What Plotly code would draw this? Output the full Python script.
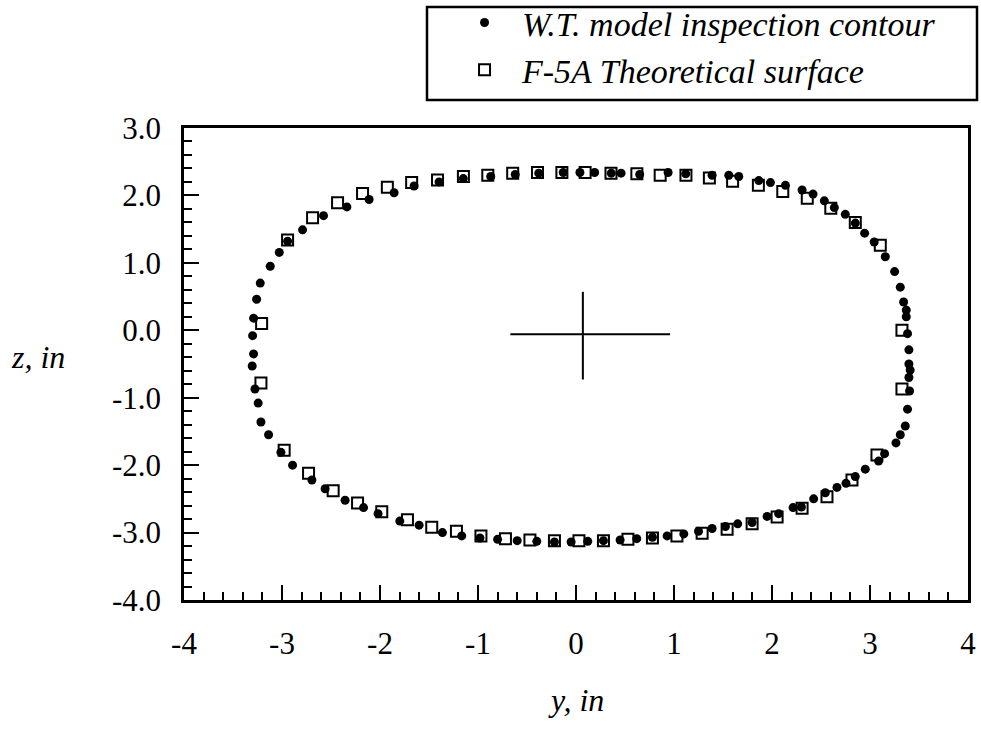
import plotly.graph_objects as go

# W.T. model inspection contour (filled circles): lateral y and vertical z, inches
wt_y = [-2.943, -2.79, -2.576, -2.338, -2.111, -1.856, -1.652, -1.397, -1.15, -0.87,
        -0.62, -0.38, -0.13, 0.04, 0.19, 0.36, 0.46, 0.65, 0.94, 1.12,
        1.389, 1.559, 1.661, 1.865, 1.984, 2.137, 2.307, 2.419, 2.534, 2.636,
        2.748, 2.85, 2.945, 3.043, 3.156, 3.251, 3.309, 3.343, 3.37, 3.37,
        3.383, 3.397, 3.397, 3.41, 3.397, 3.404, 3.383, 3.36, 3.309, 3.265,
        3.149, 3.088, 2.952, 2.85, 2.755, 2.663, 2.544, 2.425, 2.30, 2.215,
        2.068, 1.95, 1.797, 1.65, 1.525, 1.389, 1.25, 1.10, 0.93, 0.78,
        0.62, 0.45, 0.28, 0.12, -0.05, -0.22, -0.40, -0.60, -0.80, -0.98,
        -1.166, -1.363, -1.601, -1.798, -2.02, -2.168, -2.356, -2.56, -2.695, -2.892,
        -3.011, -3.137, -3.215, -3.243, -3.276, -3.304, -3.29, -3.30, -3.29, -3.259,
        -3.222, -3.12, -3.028]
wt_z = [1.32, 1.49, 1.70, 1.83, 1.94, 2.04, 2.14, 2.20, 2.25, 2.28,
        2.31, 2.33, 2.34, 2.34, 2.34, 2.33, 2.33, 2.31, 2.34, 2.32,
        2.30, 2.30, 2.28, 2.22, 2.19, 2.15, 2.08, 2.02, 1.92, 1.82,
        1.72, 1.59, 1.44, 1.31, 1.09, 0.87, 0.64, 0.42, 0.30, 0.20,
        -0.05, -0.29, -0.50, -0.59, -0.70, -0.90, -1.17, -1.42, -1.55, -1.67,
        -1.83, -1.94, -2.06, -2.17, -2.27, -2.33, -2.41, -2.50, -2.62, -2.63,
        -2.72, -2.76, -2.85, -2.87, -2.91, -2.94, -2.98, -3.02, -3.05, -3.07,
        -3.09, -3.11, -3.12, -3.13, -3.14, -3.14, -3.13, -3.12, -3.10, -3.08,
        -3.05, -3.00, -2.89, -2.83, -2.72, -2.63, -2.52, -2.35, -2.22, -2.00,
        -1.81, -1.55, -1.36, -1.08, -0.87, -0.53, -0.35, -0.08, 0.18, 0.46,
        0.70, 0.95, 1.155]

# F-5A theoretical surface (open squares)
th_y = [-3.215, -3.208, -2.943, -2.688, -2.433, -2.178, -1.925, -1.677, -1.413, -1.149,
        -0.90, -0.646, -0.393, -0.144, 0.093, 0.357, 0.621, 0.859, 1.122, 1.361,
        1.598, 1.861, 2.11, 2.36, 2.60, 2.85, 3.105, 3.326, 3.326, 3.071,
        2.816, 2.561, 2.307, 2.052, 1.797, 1.542, 1.287, 1.03, 0.78, 0.53,
        0.28, 0.03, -0.22, -0.47, -0.72, -0.97, -1.22, -1.472, -1.72, -1.982,
        -2.229, -2.478, -2.729, -2.978]
th_z = [-0.78, 0.10, 1.34, 1.67, 1.89, 2.03, 2.12, 2.19, 2.23, 2.28,
        2.30, 2.33, 2.34, 2.34, 2.34, 2.33, 2.32, 2.30, 2.30, 2.26,
        2.21, 2.15, 2.06, 1.96, 1.81, 1.60, 1.26, 0.00, -0.87, -1.85,
        -2.22, -2.47, -2.64, -2.77, -2.87, -2.95, -3.01, -3.05, -3.08, -3.10,
        -3.12, -3.12, -3.12, -3.11, -3.09, -3.05, -2.98, -2.92, -2.81, -2.69,
        -2.56, -2.38, -2.12, -1.78]

# reference cross through the section centre
cross_h_y = [-0.67, 0.96]
cross_h_z = [-0.06, -0.06]
cross_v_y = [0.07, 0.07]
cross_v_z = [0.57, -0.73]

x_ticks = [-4, -3, -2, -1, 0, 1, 2, 3, 4]
y_ticks = [3.0, 2.0, 1.0, 0.0, -1.0, -2.0, -3.0, -4.0]

SERIF = "Liberation Serif, Times New Roman, serif"

fig = go.Figure()

fig.add_trace(go.Scatter(
    x=th_y, y=th_z, mode="markers", name="<i>F-5A Theoretical surface</i>",
    marker=dict(symbol="square-open", size=11, color="black",
                line=dict(width=2, color="black")),
))
fig.add_trace(go.Scatter(
    x=wt_y, y=wt_z, mode="markers", name="<i>W.T. model inspection contour</i>",
    marker=dict(symbol="circle", size=9, color="black"),
))
fig.add_trace(go.Scatter(x=cross_h_y, y=cross_h_z, mode="lines", showlegend=False,
                         line=dict(color="black", width=2), hoverinfo="skip"))
fig.add_trace(go.Scatter(x=cross_v_y, y=cross_v_z, mode="lines", showlegend=False,
                         line=dict(color="black", width=2), hoverinfo="skip"))

axis_common = dict(
    showline=True, linecolor="black", linewidth=2.5, mirror=True,
    showgrid=False, zeroline=False,
    ticks="inside", ticklen=15, tickwidth=2, tickcolor="black",
    minor=dict(ticks="inside", ticklen=8, tickwidth=2, tickcolor="black", dtick=0.2),
    tickfont=dict(family=SERIF, size=31, color="black"),
)

fig.update_xaxes(range=[-4, 4], tickvals=x_ticks,
                 ticktext=[str(v) for v in x_ticks],
                 ticklabelstandoff=14, **axis_common)
fig.update_yaxes(range=[-4, 3], tickvals=y_ticks,
                 ticktext=[f"{v:.1f}" for v in y_ticks],
                 ticklabelstandoff=14, **axis_common)

fig.update_layout(
    width=981, height=731,
    margin=dict(l=184, r=13, t=128, b=131, autoexpand=False),
    paper_bgcolor="white", plot_bgcolor="white",
    font=dict(family=SERIF, color="black"),
    showlegend=True,
    legend=dict(
        x=0.3355, y=1.284, xanchor="left", yanchor="top",
        traceorder="reversed",
        bgcolor="rgba(0,0,0,0)", borderwidth=0,
        font=dict(family=SERIF, size=34, color="black"),
        itemwidth=65, tracegroupgap=0,
    ),
    shapes=[dict(type="rect", xref="paper", yref="paper",
                 x0=(427 - 184) / 784, x1=(977 - 184) / 784,
                 y0=(600 - 100) / 472, y1=(600 - 7) / 472,
                 line=dict(color="black", width=2.5))],
    annotations=[
        dict(text="<i>y, in</i>", xref="paper", yref="paper", x=0.5, y=-0.212,
             xanchor="center", yanchor="middle",
             showarrow=False, font=dict(family=SERIF, size=32, color="black")),
        dict(text="<i>z, in</i>", xref="paper", yref="paper", x=-0.186, y=0.515,
             xanchor="center", yanchor="middle",
             showarrow=False, font=dict(family=SERIF, size=32, color="black")),
    ],
)

fig.write_html("out.html")
